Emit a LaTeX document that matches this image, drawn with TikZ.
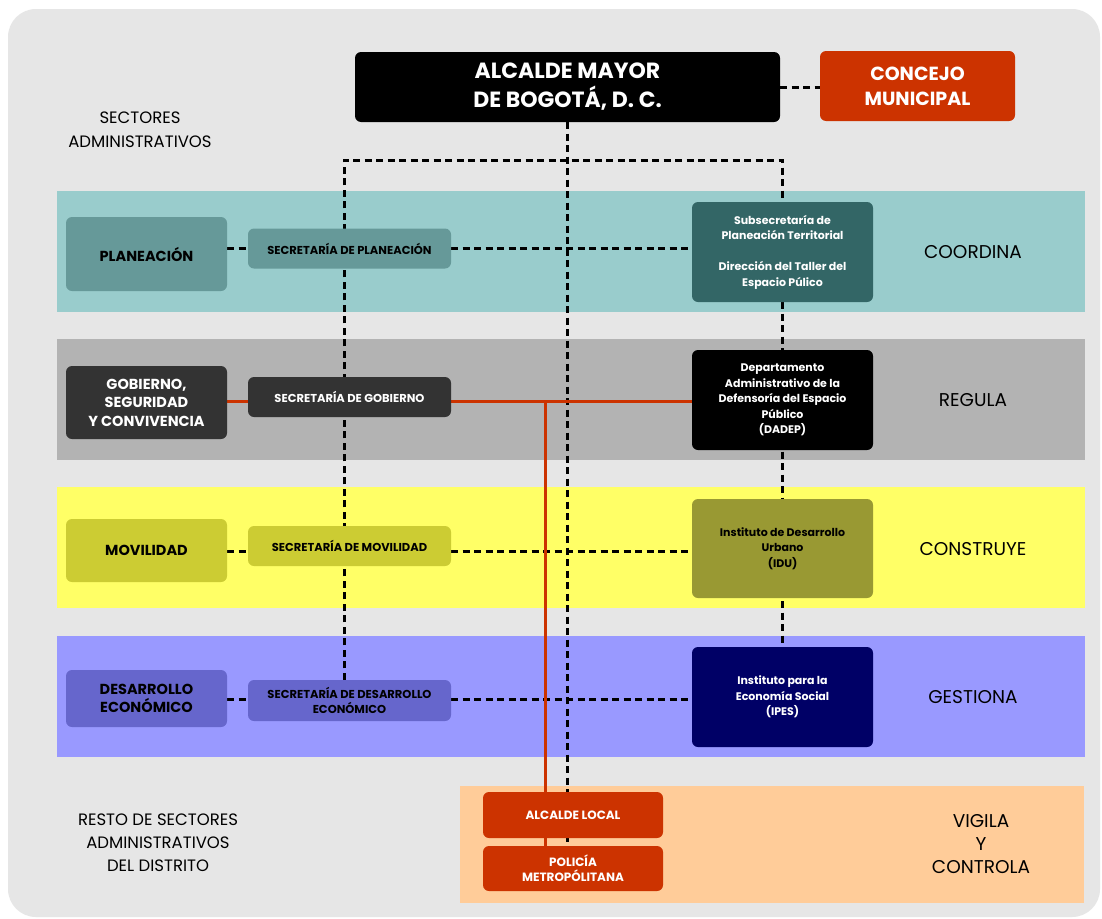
\documentclass[tikz,border=0pt]{standalone}
\usepackage{fontspec}
\setmainfont{Poppins}
\definecolor{bggray}{HTML}{E6E6E6}
\definecolor{tealband}{HTML}{99CCCC}
\definecolor{tealbox}{HTML}{669999}
\definecolor{tealdark}{HTML}{336666}
\definecolor{grayband}{HTML}{B3B3B3}
\definecolor{darkbox}{HTML}{333333}
\definecolor{yellowband}{HTML}{FFFF66}
\definecolor{olivebox}{HTML}{CCCC33}
\definecolor{olivedark}{HTML}{999933}
\definecolor{purpleband}{HTML}{9999FF}
\definecolor{purplebox}{HTML}{6666CC}
\definecolor{navybox}{HTML}{000066}
\definecolor{peachband}{HTML}{FFCC99}
\definecolor{redbox}{HTML}{CC3300}
\pgfdeclarelayer{bands}
\pgfdeclarelayer{links}
\pgfsetlayers{bands,links,main}
\begin{document}
\begin{tikzpicture}[x=1pt,y=-1pt,
  boxbase/.style={rectangle, rounded corners=6pt, inner sep=0pt, align=center},
  sectorbox/.style={boxbase, minimum width=161pt, font=\bfseries\fontsize{14.5}{18.5}\selectfont},
  secbox/.style={boxbase, minimum width=203pt, minimum height=40pt, font=\bfseries\fontsize{11.5}{14.5}\selectfont},
  entbox/.style={boxbase, minimum width=181pt, minimum height=100pt, font=\bfseries\fontsize{11}{15.5}\selectfont},
  verb/.style={font=\fontsize{18.5}{23}\selectfont, align=center, inner sep=0pt},
  sidelabel/.style={font=\fontsize{16.5}{24}\selectfont, align=center, inner sep=0pt},
  redboxst/.style={boxbase, fill=redbox, text=white, minimum width=180pt, minimum height=46pt, font=\bfseries\fontsize{12}{15}\selectfont},
  dashlink/.style={line width=3pt, dash pattern=on 7pt off 4.5pt},
  redlink/.style={line width=3pt, draw=redbox}
]
\useasboundingbox (0,0) rectangle (1102,918);
\begin{pgfonlayer}{bands}
\fill[white] (0,0) rectangle (1102,918);
\fill[bggray, rounded corners=28pt] (8,9) rectangle (1100,917);
\fill[tealband] (57,191) rectangle (1085,312);
\fill[grayband] (57,339) rectangle (1085,460);
\fill[yellowband] (57,487) rectangle (1085,608);
\fill[purpleband] (57,636) rectangle (1085,757);
\fill[peachband] (460,786) rectangle (1084,903);
\end{pgfonlayer}

% top
\node[boxbase, fill=black, text=white, minimum width=425pt, minimum height=70pt,
  font=\bfseries\fontsize{22}{29}\selectfont] (alc) at (567.5,87) {ALCALDE MAYOR\\DE BOGOTÁ, D. C.};
\node[boxbase, fill=redbox, text=white, minimum width=195pt, minimum height=70pt,
  font=\bfseries\fontsize{19}{25}\selectfont] (con) at (917.5,86) {CONCEJO\\MUNICIPAL};
\node[sidelabel] (sect) at (140,130) {SECTORES\\ADMINISTRATIVOS};

% sector boxes
\node[sectorbox, fill=tealbox, text=black, minimum height=74pt] (pl) at (146.5,254) {PLANEACIÓN};
\node[sectorbox, fill=darkbox, text=white, minimum height=73pt] (go) at (146.5,402.5) {GOBIERNO,\\SEGURIDAD\\Y CONVIVENCIA};
\node[sectorbox, fill=olivebox, text=black, minimum height=63pt] (mo) at (146.5,550.5) {MOVILIDAD};
\node[sectorbox, fill=purplebox, text=black, minimum height=57pt] (de) at (146.5,698.5) {DESARROLLO\\ECONÓMICO};

% secretarias
\node[secbox, fill=tealbox, text=black] (spl) at (349.5,248.5) {SECRETARÍA DE PLANEACIÓN};
\node[secbox, fill=darkbox, text=white] (sgo) at (349.5,397) {SECRETARÍA DE GOBIERNO};
\node[secbox, fill=olivebox, text=black] (smo) at (349.5,546) {SECRETARÍA DE MOVILIDAD};
\node[secbox, fill=purplebox, text=black, minimum height=41pt] (sde) at (349.5,700.5) {SECRETARÍA DE DESARROLLO\\ECONÓMICO};

% entities
\node[entbox, fill=tealdark, text=white] (sub) at (782.5,252) {Subsecretaría de\\Planeación Territorial\\[15.5pt]Dirección del Taller del\\Espacio Púlico};
\node[entbox, fill=black, text=white] (dadep) at (782.5,400) {Departamento\\Administrativo de la\\Defensoría del Espacio\\Público\\(DADEP)};
\node[entbox, fill=olivedark, text=black, minimum height=99pt] (idu) at (782.5,548.5) {Instituto de Desarrollo\\Urbano\\(IDU)};
\node[entbox, fill=navybox, text=white] (ipes) at (782.5,697) {Instituto para la\\Economía Social\\(IPES)};

% verbs
\node[verb] (v1) at (973,252) {COORDINA};
\node[verb] (v2) at (973,400) {REGULA};
\node[verb] (v3) at (973,549) {CONSTRUYE};
\node[verb] (v4) at (973,697) {GESTIONA};
\node[verb] (v5) at (981,844) {VIGILA\\Y\\CONTROLA};

% bottom
\node[sidelabel, font=\fontsize{16.5}{23}\selectfont] (resto) at (158,843) {RESTO DE SECTORES\\ADMINISTRATIVOS\\DEL DISTRITO};
\node[redboxst] (aloc) at (573,815) {ALCALDE LOCAL};
\node[redboxst, minimum height=45pt] (pol) at (573,868.5) {POLICÍA\\METROPÓLITANA};

% links
\coordinate (tl) at (344,160);
\coordinate (tr) at (782.5,160);
\coordinate (rj) at (545,401);
\begin{pgfonlayer}{links}
\draw[dashlink] (alc.east) -- (alc.east -| con.west);
\draw[dashlink] (alc.south) -- (alc.south |- pol.north);
\draw[dashlink] (tl |- sde.north) -- (tl) -- (tr) -- (sub.north);
\draw[dashlink] (sub.south) -- (ipes.north);
\draw[dashlink] (spl.west -| pl.east) -- (spl.west);
\draw[dashlink] (spl.east) -- (spl.east -| sub.west);
\draw[dashlink] (mo.east |- 0,551) -- (smo.west |- 0,551);
\draw[dashlink] (smo.east |- 0,551) -- (idu.west |- 0,551);
\draw[dashlink] (de.east |- 0,699) -- (sde.west |- 0,699);
\draw[dashlink] (sde.east |- 0,699) -- (ipes.west |- 0,699);
\draw[redlink] (go.east |- rj) -- (sgo.west |- rj);
\draw[redlink] (sgo.east |- rj) -- (dadep.west |- rj);
\draw[redlink] (rj) -- (rj |- pol.north);
\end{pgfonlayer}
\end{tikzpicture}
\end{document}
